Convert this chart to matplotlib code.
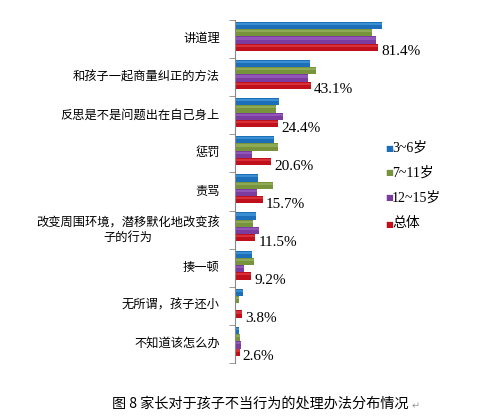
"""家长对于孩子不当行为的处理办法分布情况（图 8）。"""

import matplotlib.pyplot as plt
import numpy as np

plt.rcParams["font.family"] = ["Noto Sans CJK SC", "DejaVu Sans"]

categories = [
    "讲道理",
    "和孩子一起商量纠正的方法",
    "反思是不是问题出在自己身上",
    "惩罚",
    "责骂",
    "改变周围环境，潜移默化地改变孩\n子的行为",
    "揍一顿",
    "无所谓，孩子还小",
    "不知道该怎么办",
]
age_3_6 = [83.5, 42.5, 25.0, 22.0, 13.0, 11.8, 9.5, 4.8, 2.0]
age_7_11 = [78.0, 46.0, 23.5, 24.5, 21.5, 10.2, 10.9, 2.5, 2.6]
age_12_15 = [80.3, 41.5, 27.2, 9.8, 12.5, 13.4, 5.4, 0.8, 3.6]
total = [81.4, 43.1, 24.4, 20.6, 15.7, 11.5, 9.2, 3.8, 2.6]

series_labels = ["3~6岁", "7~11岁", "12~15岁", "总体"]
colors = ["#1C6FB8", "#77933C", "#7A3C9E", "#C0101C"]
highlights = ["#3A8FD2", "#8FAA55", "#9255B8", "#D83038"]

fig = plt.figure(figsize=(4.82, 4.18), dpi=100)
ax = fig.add_axes([235 / 482, 1 - 363 / 418, 160 / 482, 343 / 418])

y = np.arange(len(categories))
bar_h = 0.19
offsets = np.array([-1.5, -0.5, 0.5, 1.5]) * bar_h - 0.07

all_series = [age_3_6, age_7_11, age_12_15, total]
for values, off, col, hl in zip(all_series, offsets, colors, highlights):
    ax.barh(y + off, values, height=bar_h, color=col, linewidth=0)
    # lighter strip on top to imitate the 3D look
    ax.barh(y + off - bar_h * 0.22, values, height=bar_h * 0.3, color=hl, linewidth=0)

for yi, val in zip(y, total):
    ax.text(val + 1.8, yi + offsets[3] + 0.12, f"{val:.1f}%",
            family=["Liberation Serif"], fontsize=11, va="center", ha="left")

ax.set_ylim(len(categories) - 0.5, -0.5)
ax.set_xlim(0, 91)
ax.set_yticks(y - 0.05)
ax.set_yticklabels(categories, fontsize=8.8, ha="right", multialignment="center")
ax.tick_params(axis="y", length=0, pad=11)
ax.set_yticks(np.arange(len(categories) + 1) - 0.5, minor=True)
ax.tick_params(axis="y", which="minor", length=4, color="#888888")
ax.set_xticks([])
for side in ["top", "right", "bottom"]:
    ax.spines[side].set_visible(False)
ax.spines["left"].set_color("#888888")

# legend drawn by hand to match the original layout
legend_y = [148, 173, 198, 224]
for lbl, col, ly in zip(series_labels, colors, legend_y):
    fig.text(385 / 482, 1 - ly / 418, "■", color=col, fontsize=6,
             ha="left", va="center", family=["DejaVu Sans"])
    fig.text(392 / 482, 1 - ly / 418, lbl, fontsize=10, ha="left", va="center",
             family=["Liberation Serif", "Noto Sans CJK SC"])

fig.text(260 / 482, 1 - 404 / 418, "图 8 家长对于孩子不当行为的处理办法分布情况",
         fontsize=10.2, ha="center", va="center")
fig.text(412 / 482, 1 - 406 / 418, "↵", fontsize=7, color="#999999",
         ha="left", va="center", family=["DejaVu Sans"])

fig.savefig("out.png", dpi=100, facecolor="white")
